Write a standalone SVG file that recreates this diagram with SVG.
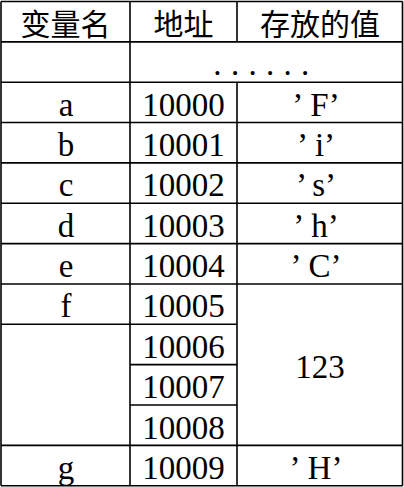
<svg xmlns="http://www.w3.org/2000/svg" width="404" height="487" viewBox="0 0 404 487">
<style>
.g line{stroke:#000;stroke-width:1.6}
.h{font-family:"Noto Sans CJK SC","Liberation Serif",serif;font-size:30px;fill:#000;text-anchor:middle}
.t{font-family:"Liberation Serif","Noto Sans CJK SC",serif;font-size:33px;fill:#000;text-anchor:middle}
</style>
<rect width="404" height="487" fill="#fff"/>
<g id="grid" class="g">
<line x1="1" y1="1.5" x2="402.5" y2="1.5"/>
<line x1="1" y1="41.85" x2="402.5" y2="41.85"/>
<line x1="1" y1="82.2" x2="402.5" y2="82.2"/>
<line x1="1" y1="122.55" x2="402.5" y2="122.55"/>
<line x1="1" y1="162.9" x2="402.5" y2="162.9"/>
<line x1="1" y1="203.25" x2="402.5" y2="203.25"/>
<line x1="1" y1="243.6" x2="402.5" y2="243.6"/>
<line x1="1" y1="283.95" x2="402.5" y2="283.95"/>
<line x1="1" y1="324.3" x2="237" y2="324.3"/>
<line x1="130" y1="364.65" x2="237" y2="364.65"/>
<line x1="130" y1="405" x2="237" y2="405"/>
<line x1="1" y1="445.35" x2="402.5" y2="445.35"/>
<line x1="1" y1="485.7" x2="402.5" y2="485.7"/>
<line x1="1" y1="1.5" x2="1" y2="485.7"/>
<line x1="130" y1="1.5" x2="130" y2="485.7"/>
<line x1="237" y1="1.5" x2="237" y2="41.85"/>
<line x1="237" y1="82.2" x2="237" y2="485.7"/>
<line x1="402.5" y1="1.5" x2="402.5" y2="485.7"/>
</g>
<g id="header">
<text class="h" x="65.5" y="35">变量名</text>
<text class="h" x="183.5" y="35">地址</text>
<text class="h" x="320" y="35">存放的值</text>
</g>
<g id="row-dots">
<text class="t" x="266" y="75" letter-spacing="9.3">......</text>
</g>
<g id="row-a">
<text class="t" x="66" y="115.7">a</text>
<text class="t" x="183.5" y="115.7">10000</text>
<text class="t" x="316" y="115.7">’<tspan dx="7">F</tspan>’</text>
</g>
<g id="row-b">
<text class="t" x="66" y="156">b</text>
<text class="t" x="183.5" y="156">10001</text>
<text class="t" x="316" y="156">’<tspan dx="7">i</tspan>’</text>
</g>
<g id="row-c">
<text class="t" x="66" y="196.4">c</text>
<text class="t" x="183.5" y="196.4">10002</text>
<text class="t" x="316" y="196.4">’<tspan dx="7">s</tspan>’</text>
</g>
<g id="row-d">
<text class="t" x="66" y="236.7">d</text>
<text class="t" x="183.5" y="236.7">10003</text>
<text class="t" x="316" y="236.7">’<tspan dx="7">h</tspan>’</text>
</g>
<g id="row-e">
<text class="t" x="66" y="277.1">e</text>
<text class="t" x="183.5" y="277.1">10004</text>
<text class="t" x="316" y="277.1">’<tspan dx="7">C</tspan>’</text>
</g>
<g id="row-f">
<text class="t" x="66" y="317.4">f</text>
<text class="t" x="183.5" y="317.4">10005</text>
<text class="t" x="183.5" y="357.8">10006</text>
<text class="t" x="183.5" y="398.1">10007</text>
<text class="t" x="183.5" y="438.5">10008</text>
<text class="t" x="320" y="378">123</text>
</g>
<g id="row-g">
<text class="t" x="66" y="478.8">g</text>
<text class="t" x="183.5" y="478.8">10009</text>
<text class="t" x="316" y="478.8">’<tspan dx="7">H</tspan>’</text>
</g>
</svg>
